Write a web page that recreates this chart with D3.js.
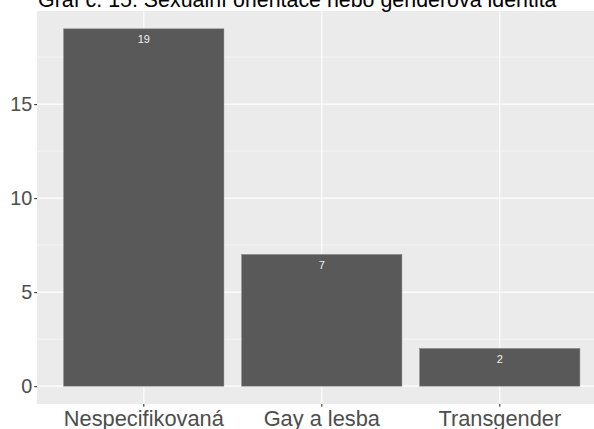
<!DOCTYPE html>
<html>
<head>
<meta charset="utf-8">
<script src="https://cdn.jsdelivr.net/npm/d3@7"></script>
<style>
  body { margin: 0; background: #fff; }
  svg { display: block; font-family: "Liberation Sans", Arial, Helvetica, sans-serif; }
</style>
</head>
<body>
<svg width="594" height="429"></svg>
<script>
const categories = ['Nespecifikovaná', 'Gay a lesba', 'Transgender'];
const counts = [19, 7, 2];
const yTicks = [0, 5, 10, 15];
const yMinor = [2.5, 7.5, 12.5, 17.5];
const title = 'Graf č. 15: Sexuální orientace nebo genderová identita';

const data = categories.map((c, i) => ({ cat: c, n: counts[i] }));

const svg = d3.select('svg');

// panel runs past the right edge, as in the cropped original
const panel = { left: 37, top: 11, right: 606.6, bottom: 404 };

const x = d3.scaleBand()
  .domain(categories)
  .range([panel.left, panel.right])
  .paddingInner(0.1)
  .paddingOuter(0.15);

const y = d3.scaleLinear()
  .domain([-0.95, 19.95])
  .range([panel.bottom, panel.top]);

svg.append('rect')
  .attr('x', panel.left)
  .attr('y', panel.top)
  .attr('width', panel.right - panel.left)
  .attr('height', panel.bottom - panel.top)
  .attr('fill', '#ebebeb');

const grid = svg.append('g');

grid.selectAll('line.minor')
  .data(yMinor)
  .enter()
  .append('line')
  .attr('class', 'minor')
  .attr('x1', panel.left)
  .attr('x2', panel.right)
  .attr('y1', d => y(d))
  .attr('y2', d => y(d))
  .attr('stroke', '#fff')
  .attr('stroke-width', 0.55);

grid.selectAll('line.major')
  .data(yTicks)
  .enter()
  .append('line')
  .attr('class', 'major')
  .attr('x1', panel.left)
  .attr('x2', panel.right)
  .attr('y1', d => y(d))
  .attr('y2', d => y(d))
  .attr('stroke', '#fff')
  .attr('stroke-width', 1.1);

grid.selectAll('line.vmajor')
  .data(categories)
  .enter()
  .append('line')
  .attr('class', 'vmajor')
  .attr('x1', d => x(d) + x.bandwidth() / 2)
  .attr('x2', d => x(d) + x.bandwidth() / 2)
  .attr('y1', panel.top)
  .attr('y2', panel.bottom)
  .attr('stroke', '#fff')
  .attr('stroke-width', 1.1);

svg.append('g')
  .selectAll('rect')
  .data(data)
  .enter()
  .append('rect')
  .attr('x', d => x(d.cat))
  .attr('width', x.bandwidth())
  .attr('y', d => y(d.n))
  .attr('height', d => y(0) - y(d.n))
  .attr('fill', '#595959')
  .attr('stroke', '#7a7a7a')
  .attr('stroke-width', 0.5);

svg.append('g')
  .selectAll('text')
  .data(data)
  .enter()
  .append('text')
  .attr('x', d => x(d.cat) + x.bandwidth() / 2)
  .attr('y', d => y(d.n) + 14)
  .attr('text-anchor', 'middle')
  .attr('font-size', 11)
  .attr('fill', '#f2f2f2')
  .text(d => d.n);

const yAxis = svg.append('g')
  .attr('transform', `translate(${panel.left},0)`)
  .call(d3.axisLeft(y).tickValues(yTicks).tickSize(2.75).tickPadding(2));

const xAxis = svg.append('g')
  .attr('transform', `translate(0,${panel.bottom})`)
  .call(d3.axisBottom(x).tickSize(2.75).tickPadding(3.5));

[yAxis, xAxis].forEach(g => {
  g.select('.domain').remove();
  g.selectAll('.tick line').attr('stroke', '#333').attr('stroke-width', 1.1);
  g.selectAll('.tick text')
    .attr('fill', '#4d4d4d')
    .attr('font-family', '"Liberation Sans", Arial, Helvetica, sans-serif');
});
yAxis.selectAll('.tick text').attr('font-size', 19.8);
xAxis.selectAll('.tick text').attr('font-size', 21.8);

svg.append('text')
  .attr('x', 38)
  .attr('y', 7)
  .attr('font-size', 21.4)
  .attr('fill', '#000')
  .text(title);
</script>
</body>
</html>
